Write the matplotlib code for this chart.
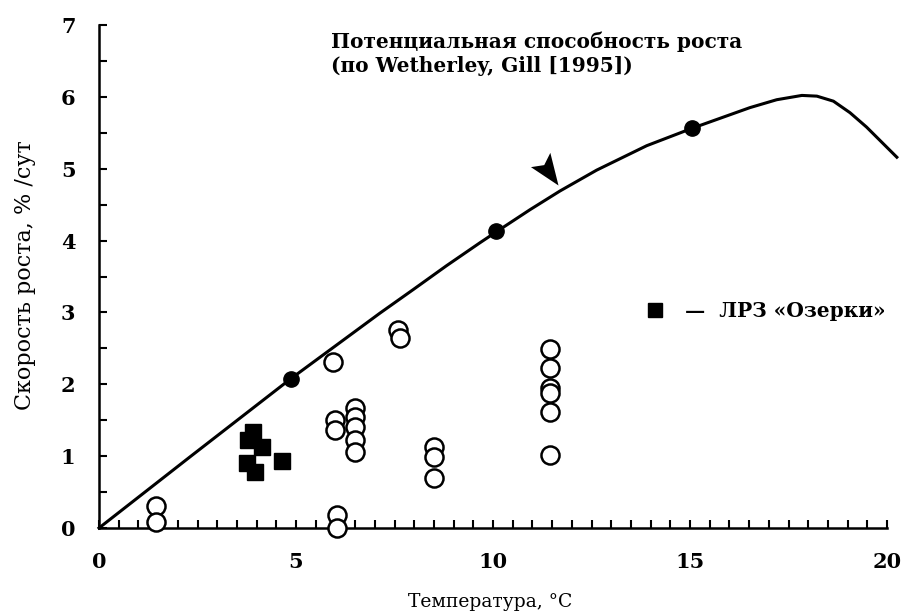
import matplotlib
matplotlib.use("Agg")
import matplotlib.pyplot as plt
from matplotlib.lines import Line2D
from matplotlib.path import Path
from matplotlib.ticker import MultipleLocator

plt.rcParams['font.family'] = ['DejaVu Serif']

# Potential growth curve (Wetherley, Gill 1995)
curve_x = [0, 2.31, 4.85, 7.13, 7.98, 8.82, 9.67, 10.08, 10.94, 11.7, 12.63, 13.9,
           15.04, 16.52, 17.2, 17.84, 18.22, 18.64, 19.06, 19.48, 20.25]
curve_y = [0, 0.99, 2.07, 2.99, 3.32, 3.65, 3.97, 4.12, 4.43, 4.69, 4.98, 5.32,
           5.56, 5.85, 5.96, 6.02, 6.01, 5.94, 5.78, 5.58, 5.16]

# filled dots on the curve
dot_x = [4.88, 10.08, 15.05]
dot_y = [2.07, 4.14, 5.56]

# open circles: other observations
open_x = [1.45, 1.45, 5.95, 7.6, 7.64, 5.99, 5.99, 6.5, 6.5, 6.5, 6.5, 6.5,
          6.03, 6.03, 8.5, 8.5, 8.5, 11.45, 11.45, 11.45, 11.45, 11.45, 11.45]
open_y = [0.30, 0.09, 2.31, 2.76, 2.65, 1.50, 1.36, 1.67, 1.55, 1.40, 1.22, 1.06,
          0.18, 0.0, 1.13, 0.99, 0.69, 2.49, 2.22, 1.95, 1.88, 1.62, 1.02]

# filled squares: LRZ "Ozerki"
sq_x = [3.92, 3.79, 4.13, 3.75, 3.96, 4.64]
sq_y = [1.34, 1.22, 1.13, 0.90, 0.78, 0.93]

# arrow tip on the curve
arrow_x = [11.66]
arrow_y = [4.77]

x_ticks = [0, 5, 10, 15, 20]
y_ticks = [0, 1, 2, 3, 4, 5, 6, 7]

title_text = "Потенциальная способность роста\n(по Wetherley, Gill [1995])"
legend_text = "—  ЛРЗ «Озерки»"
xlabel = "Температура, °С"
ylabel = "Скорость роста, % /сут"

fig = plt.figure(figsize=(9.03, 6.16), dpi=100)
ax = fig.add_axes([99/903, 88/616, 788/903, 503/616])

ax.plot(curve_x, curve_y, color='black', lw=2.2, clip_on=False, zorder=2,
        solid_joinstyle='round')
ax.plot(dot_x, dot_y, 'o', color='black', ms=11, zorder=3)
ax.plot(open_x, open_y, 'o', mfc='white', mec='black', mew=1.8, ms=13,
        clip_on=False, zorder=4)
ax.plot(sq_x, sq_y, 's', color='black', ms=11, zorder=5)

# stealth arrowhead, tip at the marker origin
arrow_path = Path([(0, 0), (-27, 18), (-14, 20), (-8, 32), (0, 0)],
                  [Path.MOVETO, Path.LINETO, Path.LINETO, Path.LINETO, Path.CLOSEPOLY])
ax.plot(arrow_x, arrow_y, ls='none', marker=arrow_path, ms=47, color='black',
        mew=0, zorder=6)

ax.text(0.294, 0.988, title_text, transform=ax.transAxes, ha='left', va='top',
        fontsize=14.5, fontweight='bold', linespacing=1.25)

handle = Line2D([], [], marker='s', color='black', ls='none', ms=10)
ax.legend([handle], [legend_text], loc='center left',
          bbox_to_anchor=(0.67, 0.431), frameon=False, handlelength=1.0,
          handletextpad=1.0, prop={'size': 14.5, 'weight': 'bold'})

ax.set_xlim(0, 20)
ax.set_ylim(0, 7)
ax.set_xticks(x_ticks)
ax.set_yticks(y_ticks)
ax.xaxis.set_minor_locator(MultipleLocator(0.5))
ax.yaxis.set_minor_locator(MultipleLocator(0.5))
ax.tick_params(which='both', direction='in', width=1.5, length=6)
ax.tick_params(axis='x', pad=17, labelsize=15)
ax.tick_params(axis='y', pad=17, labelsize=15)
for lab in ax.get_xticklabels() + ax.get_yticklabels():
    lab.set_fontweight('bold')

for s in ['top', 'right']:
    ax.spines[s].set_visible(False)
for s in ['left', 'bottom']:
    ax.spines[s].set_linewidth(1.8)

ax.set_xlabel(xlabel, fontsize=13.5)
ax.set_ylabel(ylabel, fontsize=16)
ax.xaxis.set_label_coords(0.496, -0.13)
ax.yaxis.set_label_coords(-0.08, 0.503)

fig.savefig("out.png", dpi=100)
